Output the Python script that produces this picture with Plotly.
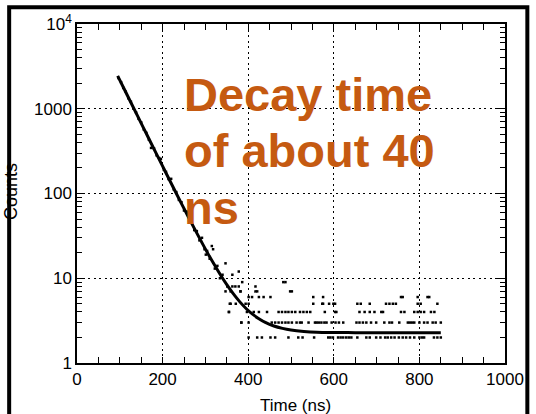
import plotly.graph_objects as go

# ---------------- data ----------------
early_t = [97, 103, 108, 114, 120, 126, 132, 138, 144, 150, 156, 162, 168, 173, 180,
           186, 192, 196, 203, 208, 214, 220, 226, 232, 238, 244, 250, 256, 262, 268,
           274, 280, 286, 292, 298, 301, 304, 310, 315, 318, 322, 328, 334, 340, 347,
           347, 351, 355, 357, 359, 363, 363, 370, 378, 378, 382, 384, 386]
early_counts = [2300, 2060, 1760, 1590, 1330, 1210, 1000, 905, 760, 690, 570, 520, 430, 345, 340,
                282, 262, 256, 190, 180, 148, 149, 112, 104, 84, 79, 63, 61, 48, 46,
                37, 36, 28, 30, 22, 19, 21, 17, 24, 22, 13, 14, 10, 11, 15,
                7, 8, 4, 5, 7, 11, 8, 8, 12, 8, 7, 3, 9]

tail_t_2 = [401, 421, 432, 452, 463, 494, 517, 527, 554, 587, 592, 598, 610, 616, 622, 629,
            635, 641, 655, 676, 684, 699, 709, 720, 726, 734, 742, 752, 761, 769, 778, 788,
            800, 806, 811, 834, 842, 850]
tail_t_3 = [384, 401, 455, 463, 471, 479, 487, 494, 502, 513, 521, 525, 541, 556, 560, 565,
            571, 578, 583, 595, 604, 612, 622, 653, 660, 668, 676, 687, 699, 718, 730, 736,
            753, 773, 778, 783, 788, 800, 811, 819, 831, 838, 850]
tail_t_4 = [355, 397, 413, 425, 444, 471, 479, 487, 494, 502, 510, 521, 529, 537, 545, 579,
            603, 606, 660, 672, 684, 695, 711, 715, 757, 765, 788, 796, 803, 811, 827, 835]
tail_t_5 = [359, 371, 394, 401, 552, 573, 575, 589, 599, 603, 655, 663, 684, 722, 730, 738,
            745, 796, 803, 842]
tail_t_6 = [401, 409, 425, 436, 452, 552, 575, 757, 761, 796, 819, 823]
tail_t_7 = [382, 417, 421, 498, 502]
tail_t_8 = [417]
tail_t_9 = [482, 487]

fit_t = [95, 110, 125, 140, 155, 170, 185, 200, 215, 230, 245, 260, 275, 290, 305, 320,
         335, 350, 365, 380, 395, 410, 425, 440, 460, 480, 500, 530, 560, 600, 650, 700,
         775, 850]
fit_counts = [2445, 1720, 1210, 852, 600, 422, 297.6, 210, 148.4, 105, 74.5, 53.1, 38, 27.4,
              19.9, 14.7, 11.0, 8.4, 6.58, 5.3, 4.4, 3.77, 3.33, 3.01, 2.73, 2.56, 2.45,
              2.36, 2.31, 2.29, 2.28, 2.27, 2.27, 2.27]

x_ticks = [0, 200, 400, 600, 800, 1000]
y_ticks = [1, 10, 100, 1000, 10000]
y_tick_text = ["1", "10", "100", "1000", "10<sup>4</sup>"]
y_minor = [m * d for d in (1, 10, 100, 1000) for m in range(2, 10)]

annotation_lines = ["Decay time", "of about 40", "ns"]

# ---------------- build points ----------------
pts_t = list(early_t)
pts_c = list(early_counts)
for level, ts in [(2, tail_t_2), (3, tail_t_3), (4, tail_t_4), (5, tail_t_5),
                  (6, tail_t_6), (7, tail_t_7), (8, tail_t_8), (9, tail_t_9)]:
    pts_t += ts
    pts_c += [level] * len(ts)

FONT = "Liberation Sans, Arial, Helvetica, sans-serif"

fig = go.Figure()
fig.add_trace(go.Scatter(x=pts_t, y=pts_c, mode="markers",
                         marker=dict(color="black", size=2.5, symbol="square"),
                         showlegend=False, hoverinfo="skip"))
fig.add_trace(go.Scatter(x=fit_t, y=fit_counts, mode="lines",
                         line=dict(color="black", width=3, shape="spline"),
                         showlegend=False, hoverinfo="skip"))

fig.update_layout(
    width=536, height=414,
    margin=dict(l=77, r=28, t=23, b=51),
    paper_bgcolor="white", plot_bgcolor="white",
    font=dict(family=FONT, size=17, color="black"),
    xaxis=dict(range=[0, 1000], tickvals=x_ticks, ticks="inside", ticklen=6,
               tickwidth=1.3, tickcolor="black", showline=True, linecolor="black",
               linewidth=1.5, mirror="allticks", zeroline=False,
               showgrid=True, gridcolor="black", gridwidth=1.4, griddash="2px,3.5px",
               tickfont=dict(size=17),
               minor=dict(ticks="inside", dtick=50, tick0=0, ticklen=6,
                          tickwidth=1.3, tickcolor="black", showgrid=False)),
    yaxis=dict(type="log", range=[0, 4], tickvals=y_ticks, ticktext=y_tick_text,
               ticks="inside", ticklen=8, tickwidth=1.3, tickcolor="black",
               showline=True, linecolor="black", linewidth=1.5, mirror="allticks",
               zeroline=False, showgrid=True, gridcolor="black", gridwidth=1.4,
               griddash="2px,3.5px", tickfont=dict(size=17),
               minor=dict(ticks="inside", tickvals=y_minor, ticklen=5,
                          tickwidth=1.2, tickcolor="black", showgrid=False)),
)

# axis titles
fig.add_annotation(text="Time (ns)", xref="paper", yref="paper", x=0.51, y=-0.124,
                   xanchor="center", yanchor="middle", showarrow=False,
                   font=dict(size=17, color="black", family=FONT))
fig.add_annotation(text="Counts", xref="paper", yref="paper", x=-0.153, y=0.506,
                   xanchor="center", yanchor="middle", textangle=-90, showarrow=False,
                   font=dict(size=18, color="black", family=FONT))

# big orange text
for line, yy in zip(annotation_lines, [0.793, 0.626, 0.458]):
    fig.add_annotation(text="<b>" + line + "</b>", xref="paper", yref="paper",
                       x=0.246, y=yy, xanchor="left", yanchor="middle", showarrow=False,
                       font=dict(size=47, color="#C55A11", family=FONT))

# outer frame
fig.add_shape(type="rect", xref="paper", yref="paper",
              x0=-0.1585, x1=1.0522, y0=-0.25, y1=1.0491,
              line=dict(color="black", width=4), fillcolor="rgba(0,0,0,0)", layer="above")

fig.write_html("out.html", config={"displayModeBar": False})

# remove the default browser body margin so the figure sits at the window's corner
with open("out.html", "r", encoding="utf-8") as f:
    html = f.read()
html = html.replace("<head>", "<head><style>html,body{margin:0;padding:0;overflow:hidden;}</style>", 1)
with open("out.html", "w", encoding="utf-8") as f:
    f.write(html)
